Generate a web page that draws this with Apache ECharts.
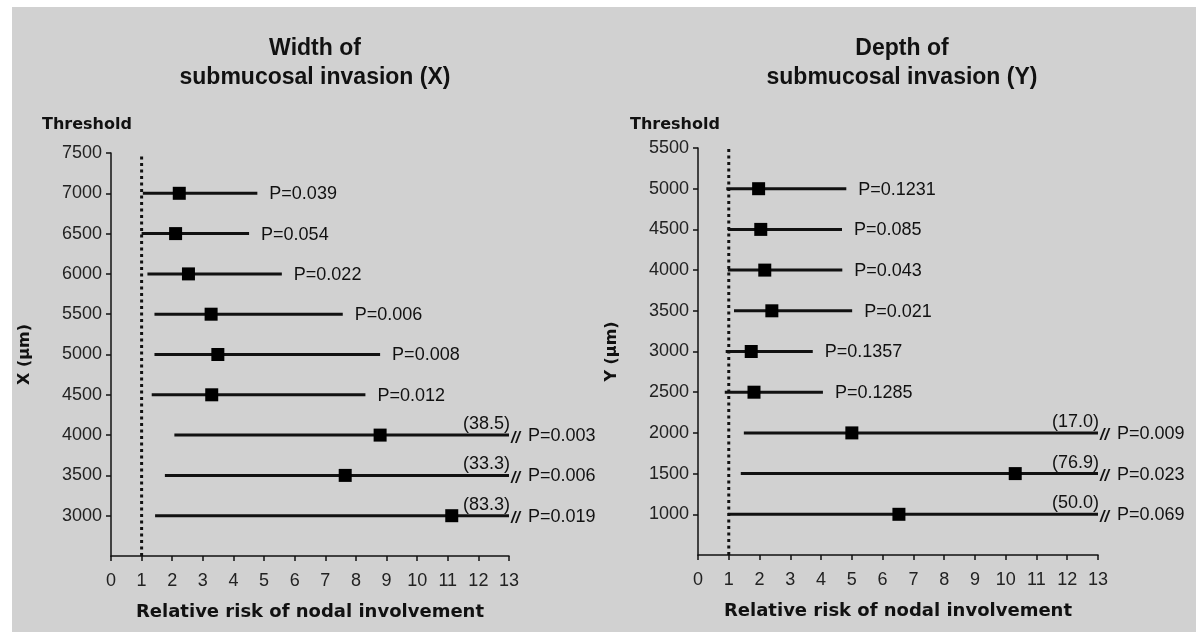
<!DOCTYPE html>
<html>
<head>
<meta charset="utf-8">
<script src="https://cdn.jsdelivr.net/npm/echarts@6/dist/echarts.min.js"></script>
<style>
html,body{margin:0;padding:0;background:#fff;}
#chart{width:1196px;height:632px;}
</style>
</head>
<body>
<div id="chart"></div>
<script>
// ---- data ----
const rrTicks = [0,1,2,3,4,5,6,7,8,9,10,11,12,13];

const leftThresholds = [7000,6500,6000,5500,5000,4500,4000,3500,3000];
const leftRR   = [2.23,2.11,2.53,3.27,3.49,3.29,8.79,7.65,11.13];
const leftLow  = [1.04,1.00,1.19,1.42,1.42,1.33,2.07,1.76,1.44];
const leftHigh = [4.78,4.51,5.58,7.57,8.79,8.31,38.5,33.3,83.3];
const leftP    = ['P=0.039','P=0.054','P=0.022','P=0.006','P=0.008','P=0.012','P=0.003','P=0.006','P=0.019'];

const rightThresholds = [5000,4500,4000,3500,3000,2500,2000,1500,1000];
const rightRR   = [1.97,2.04,2.17,2.40,1.73,1.82,5.00,10.31,6.53];
const rightLow  = [0.92,0.97,0.97,1.17,0.90,0.87,1.49,1.39,0.97];
const rightHigh = [4.82,4.68,4.69,5.01,3.73,4.06,17.0,76.9,50.0];
const rightP    = ['P=0.1231','P=0.085','P=0.043','P=0.021','P=0.1357','P=0.1285','P=0.009','P=0.023','P=0.069'];

const AXIS_MAX = 13;
const INK = '#111';
const FONT = '"Liberation Sans", Arial, sans-serif';
const BOLD = '"DejaVu Sans", sans-serif';

function rows(th, low, high, rr){
  return th.map((t,i)=>[low[i], high[i], rr[i], t]);
}

function makeRenderer(pLabels){
  return function(params, api){
    const low = api.value(0), high = api.value(1), pt = api.value(2), y = api.value(3);
    const hi = Math.min(high, AXIS_MAX);
    const a = api.coord([low, y]);
    const b = api.coord([hi, y]);
    const m = api.coord([pt, y]);
    const children = [
      {type:'line', shape:{x1:a[0], y1:a[1], x2:b[0], y2:b[1]}, style:{stroke:INK, lineWidth:3}},
      {type:'rect', shape:{x:m[0]-6.5, y:m[1]-6.5, width:13, height:13}, style:{fill:'#000'}}
    ];
    const p = pLabels[params.dataIndex];
    if (high > AXIS_MAX){
      children.push({type:'text', style:{text:'('+high.toFixed(1)+')', x:b[0]+1, y:b[1]-2, align:'right', verticalAlign:'bottom', fill:INK, font:'18px '+FONT}});
      children.push({type:'text', style:{text:'//', x:b[0]+2, y:b[1]+3, align:'left', verticalAlign:'middle', fill:INK, font:'italic bold 16px '+FONT}});
      children.push({type:'text', style:{text:p, x:b[0]+19, y:b[1]+1, align:'left', verticalAlign:'middle', fill:INK, font:'18px '+FONT}});
    } else {
      children.push({type:'text', style:{text:p, x:b[0]+12, y:b[1]+1, align:'left', verticalAlign:'middle', fill:INK, font:'18px '+FONT}});
    }
    return {type:'group', children};
  };
}

function xAxisCfg(gi){
  return {
    gridIndex:gi, type:'value', min:0, max:13, interval:1,
    name:'Relative risk of nodal involvement', nameLocation:'middle', nameGap:47,
    nameTextStyle:{fontFamily:BOLD, fontWeight:'bold', fontSize:18, color:INK},
    axisLine:{show:true, onZero:false, lineStyle:{color:INK, width:1.5}},
    axisTick:{show:true, length:5, lineStyle:{color:INK, width:1.5}},
    axisLabel:{margin:16, fontFamily:FONT, fontSize:18, color:'#222', formatter:v=>String(rrTicks.includes(v)?v:v)},
    splitLine:{show:false}
  };
}
function yAxisCfg(gi, min, max, name){
  return {
    gridIndex:gi, type:'value', min:min, max:max, interval:500,
    name:name, nameLocation:'middle', nameGap:78, nameRotate:90,
    nameTextStyle:{fontFamily:BOLD, fontWeight:'bold', fontSize:16, color:INK},
    axisLine:{show:true, onZero:false, lineStyle:{color:INK, width:1.5}},
    axisTick:{show:true, length:5, lineStyle:{color:INK, width:1.5}},
    axisLabel:{showMinLabel:false, margin:9, fontFamily:FONT, fontSize:18, color:'#222', formatter:v=>String(v)},
    splitLine:{show:false}
  };
}

const chart = echarts.init(document.getElementById('chart'), null, {renderer:'canvas'});
chart.setOption({
  backgroundColor:'#ffffff',
  animation:false,
  graphic:[
    {type:'rect', z:-10, shape:{x:12, y:7, width:1184, height:625}, style:{fill:'#d1d1d1'}}
  ],
  title:[
    {text:'Width of\nsubmucosal invasion (X)', left:310, top:29, textAlign:'center',
      textStyle:{fontFamily:FONT, fontWeight:'bold', fontSize:23, lineHeight:29, color:INK}},
    {text:'Depth of\nsubmucosal invasion (Y)', left:897, top:29, textAlign:'center',
      textStyle:{fontFamily:FONT, fontWeight:'bold', fontSize:23, lineHeight:29, color:INK}},
    {text:'Threshold', left:37, top:112, textStyle:{fontFamily:BOLD, fontWeight:'bold', fontSize:16, color:INK}},
    {text:'Threshold', left:625, top:112, textStyle:{fontFamily:BOLD, fontWeight:'bold', fontSize:16, color:INK}}
  ],
  grid:[
    {left:111, top:153, width:398, height:403},
    {left:698, top:148, width:400, height:407}
  ],
  xAxis:[xAxisCfg(0), xAxisCfg(1)],
  yAxis:[yAxisCfg(0, 2500, 7500, 'X (\u00b5m)'), yAxisCfg(1, 500, 5500, 'Y (\u00b5m)')],
  series:[
    {type:'line', xAxisIndex:0, yAxisIndex:0, data:[[1,2500],[1,7500]], showSymbol:false, silent:true,
      lineStyle:{color:INK, width:3, type:[3,3.5]}},
    {type:'line', xAxisIndex:1, yAxisIndex:1, data:[[1,500],[1,5500]], showSymbol:false, silent:true,
      lineStyle:{color:INK, width:3, type:[3,3.5]}},
    {type:'custom', xAxisIndex:0, yAxisIndex:0, clip:false,
      data:rows(leftThresholds, leftLow, leftHigh, leftRR),
      encode:{x:[0,1,2], y:3}, renderItem:makeRenderer(leftP)},
    {type:'custom', xAxisIndex:1, yAxisIndex:1, clip:false,
      data:rows(rightThresholds, rightLow, rightHigh, rightRR),
      encode:{x:[0,1,2], y:3}, renderItem:makeRenderer(rightP)}
  ]
});
</script>
</body>
</html>
